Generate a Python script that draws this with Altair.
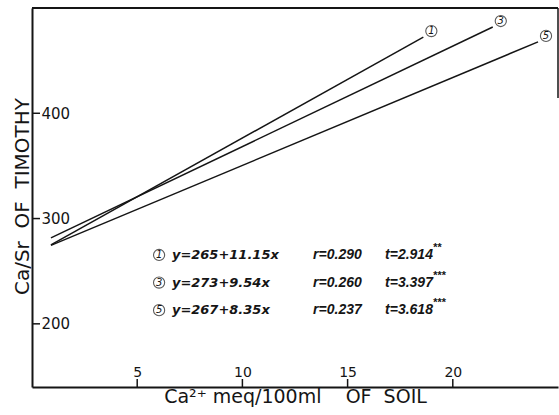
import altair as alt
import pandas as pd

# Regression of Ca/Sr in timothy on exchangeable soil Ca, three series
line_ids = ["1", "3", "5"]
intercepts = [265, 273, 267]
slopes = [11.15, 9.54, 8.35]
x_starts = [0.9, 0.9, 0.9]
x_ends = [18.6, 21.9, 24.05]
r_values = ["0.290", "0.260", "0.237"]
t_values = ["2.914", "3.397", "3.618"]
t_stars = ["**", "***", "***"]

x_ticks = [5, 10, 15, 20]
y_ticks = [200, 300, 400]

X_DOMAIN = [0, 25]
Y_DOMAIN = [140, 500]
W, H = 526, 379
INK = "#151515"
FONT = "DejaVu Sans"
NARROW = "Liberation Sans"

# line end points from the fitted equations
rows = []
for lid, a, b, x0, x1 in zip(line_ids, intercepts, slopes, x_starts, x_ends):
    for xv in (x0, x1):
        rows.append({"line": lid, "x": xv, "y": a + b * xv})
lines_df = pd.DataFrame(rows)

ends_df = pd.DataFrame({
    "line": line_ids,
    "x": x_ends,
    "y": [a + b * xe for a, b, xe in zip(intercepts, slopes, x_ends)],
})

# equation block below the lines
row_x_circle = 6.04
row_x_eq = 6.65
row_x_r = 13.36
row_x_t = 16.78
row_x_star = 19.05
row_y = [265.4 - 26.2 * i for i in range(3)]
stats_df = pd.DataFrame({
    "line": line_ids,
    "row": row_y,
    "eq": [f"y={a}+{b:.2f}x" for a, b in zip(intercepts, slopes)],
    "r": [f"r={r}" for r in r_values],
    "t": [f"t={t}" for t in t_values],
    "stars": t_stars,
})

xs = alt.Scale(domain=X_DOMAIN, nice=False, zero=False)
ys = alt.Scale(domain=Y_DOMAIN, nice=False, zero=False)

x_axis = alt.Axis(
    values=x_ticks, ticks=False, grid=False, domainColor=INK, domainWidth=2,
    labelFont=FONT, labelFontSize=14, labelColor=INK, labelPadding=-11,
    labelBaseline="alphabetic", labelAlign="center",
    title="Ca²⁺ meq/100ml\u00a0\u00a0\u00a0\u00a0OF\u00a0\u00a0SOIL",
    titleFont=FONT, titleFontSize=19, titleFontWeight="normal", titleColor=INK,
    titleX=263, titleY=15, titleBaseline="alphabetic", titleAlign="center",
)
y_axis = alt.Axis(
    values=y_ticks, ticks=False, grid=False, domainColor=INK, domainWidth=2,
    labelFont=FONT, labelFontSize=15, labelColor=INK, labelPadding=-9,
    labelAlign="left", labelBaseline="middle",
    title="Ca/Sr\u00a0\u00a0OF\u00a0\u00a0TIMOTHY",
    titleFont=FONT, titleFontSize=20, titleFontWeight="normal", titleColor=INK,
    titleX=-4, titleY=188, titleAngle=-90, titleBaseline="alphabetic", titleAlign="center",
)

lines = alt.Chart(lines_df).mark_line(color=INK, strokeWidth=1.5).encode(
    x=alt.X("x:Q", scale=xs, axis=x_axis),
    y=alt.Y("y:Q", scale=ys, axis=y_axis),
    detail="line:N",
)

end_circles = alt.Chart(ends_df).mark_point(
    shape="circle", filled=False, size=125, color=INK, strokeWidth=1.1,
    xOffset=8, yOffset=-6,
).encode(
    x=alt.X("x:Q", scale=xs, axis=None),
    y=alt.Y("y:Q", scale=ys, axis=None),
)
end_nums = alt.Chart(ends_df).mark_text(
    font=FONT, fontSize=10, fontStyle="italic", color=INK, dx=8, dy=-6,
    baseline="middle", align="center",
).encode(
    x=alt.X("x:Q", scale=xs, axis=None),
    y=alt.Y("y:Q", scale=ys, axis=None),
    text="line:N",
)

# inward ticks on both axes
y_tick_df = pd.DataFrame({"v": y_ticks})
x_tick_df = pd.DataFrame({"v": x_ticks})
y_tick_marks = alt.Chart(y_tick_df).mark_rule(color=INK, strokeWidth=1.5).encode(
    y=alt.Y("v:Q", scale=ys, axis=None), x=alt.value(0), x2=alt.value(8),
)
x_tick_marks = alt.Chart(x_tick_df).mark_rule(color=INK, strokeWidth=1.5).encode(
    x=alt.X("v:Q", scale=xs, axis=None), y=alt.value(H - 8), y2=alt.value(H),
)

# top frame and the short right edge
one = pd.DataFrame({"k": [0]})
top_edge = alt.Chart(one).mark_rule(color=INK, strokeWidth=1.8).encode(
    x=alt.value(0), x2=alt.value(W), y=alt.value(0),
)
right_edge = alt.Chart(one).mark_rule(color=INK, strokeWidth=1.5).encode(
    x=alt.value(W), y=alt.value(0), y2=alt.value(90),
)

stat_base = alt.Chart(stats_df)
stat_y = alt.Y("row:Q", scale=ys, axis=None)


def col_x(xpos):
    return alt.XDatum(xpos, type="quantitative", scale=xs, axis=None)


stat_circles = stat_base.mark_point(
    shape="circle", filled=False, size=125, color=INK, strokeWidth=1.1,
).encode(x=col_x(row_x_circle), y=stat_y)
stat_nums = stat_base.mark_text(
    font=FONT, fontSize=10, fontStyle="italic", color=INK, baseline="middle", align="center",
).encode(x=col_x(row_x_circle), y=stat_y, text="line:N")


def stat_text(field, xpos, font, size, dy=0):
    return stat_base.mark_text(
        font=font, fontSize=size, fontStyle="italic", fontWeight="bold", color=INK,
        baseline="middle", align="left", dy=dy,
    ).encode(x=col_x(xpos), y=stat_y, text=f"{field}:N")


stat_eq = stat_text("eq", row_x_eq, FONT, 13)
stat_r = stat_text("r", row_x_r, NARROW, 14)
stat_t = stat_text("t", row_x_t, NARROW, 14)
stat_s = stat_text("stars", row_x_star, NARROW, 11, dy=-7)

chart = alt.layer(
    lines, end_circles, end_nums, y_tick_marks, x_tick_marks, top_edge, right_edge,
    stat_circles, stat_nums, stat_eq, stat_r, stat_t, stat_s,
).resolve_axis(
    x="independent", y="independent",
).properties(
    width=W, height=H,
    autosize=alt.AutoSizeParams(type="none"),
    padding={"left": 32, "top": 8, "right": 1, "bottom": 28},
    background="white",
).configure_view(stroke=None)

chart.save("out.html", embed_options={"renderer": "svg", "actions": False})
